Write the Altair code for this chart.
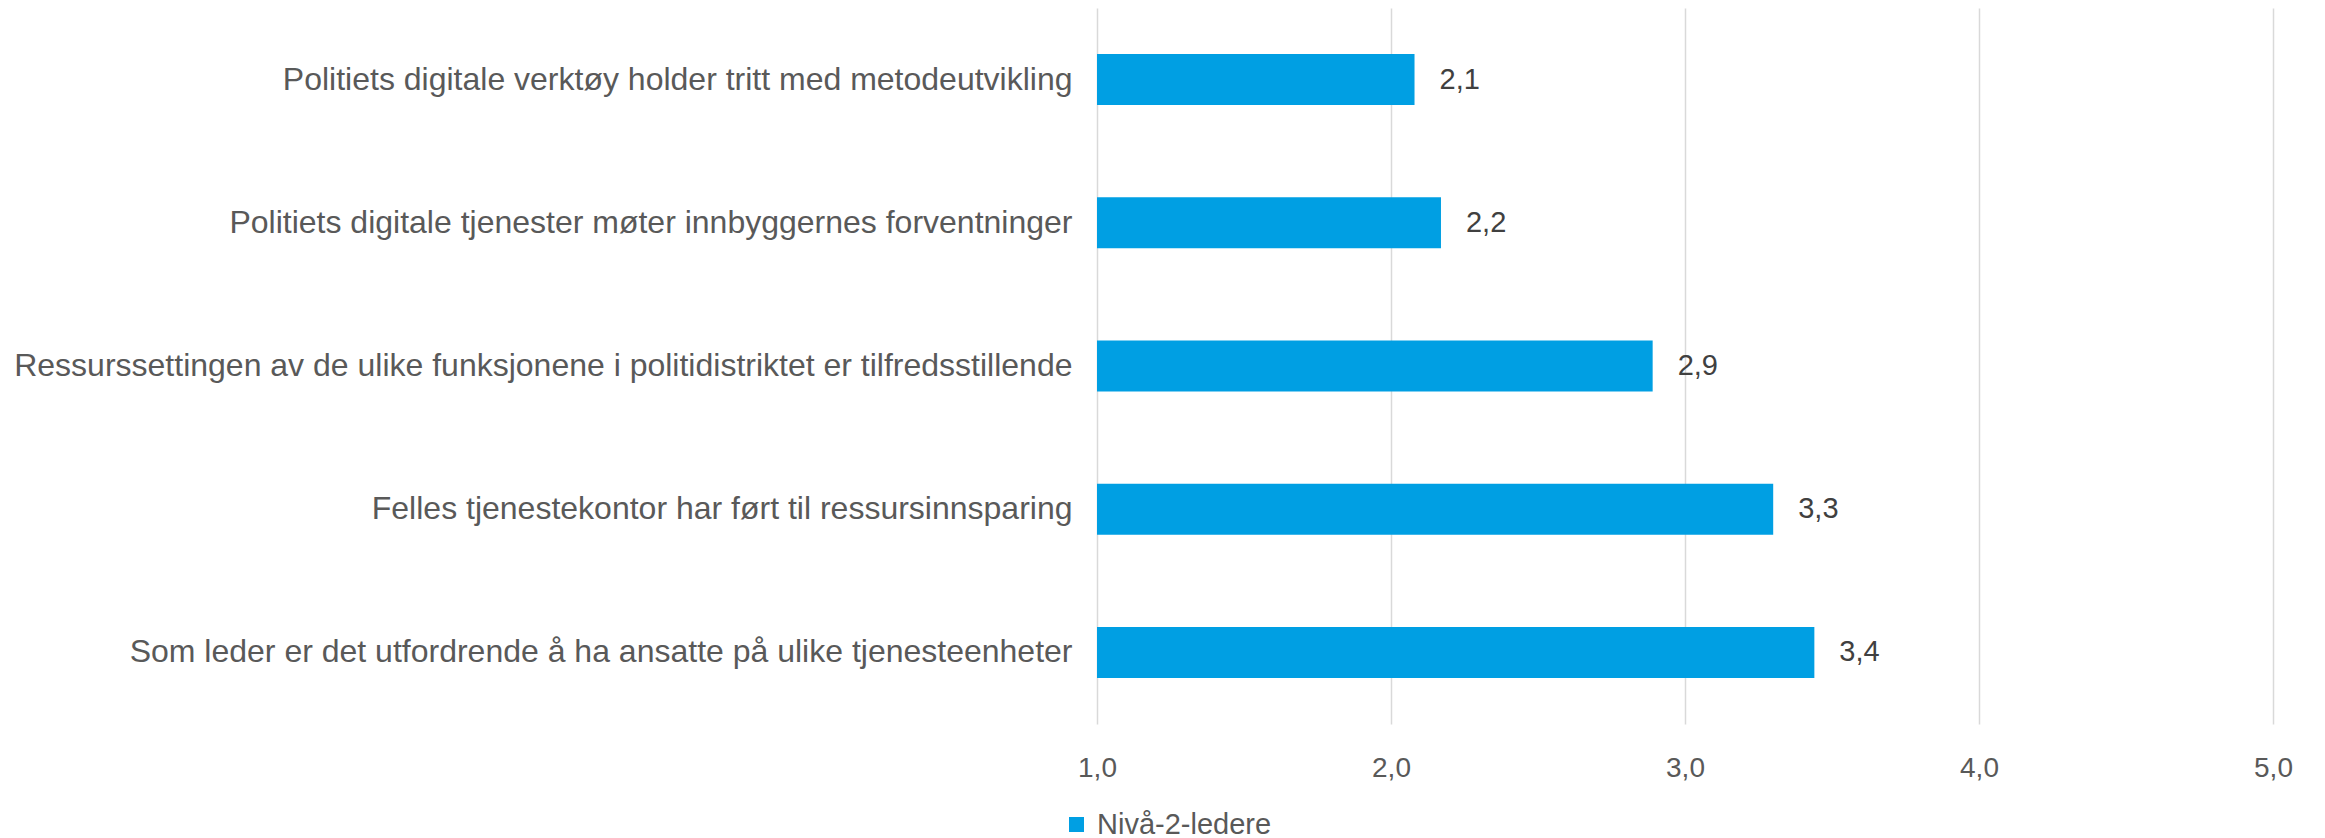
import altair as alt
import pandas as pd

categories = [
    "Politiets digitale verktøy holder tritt med metodeutvikling",
    "Politiets digitale tjenester møter innbyggernes forventninger",
    "Ressurssettingen av de ulike funksjonene i politidistriktet er tilfredsstillende",
    "Felles tjenestekontor har ført til ressursinnsparing",
    "Som leder er det utfordrende å ha ansatte på ulike tjenesteenheter",
]
values = [2.08, 2.17, 2.89, 3.30, 3.44]
series_name = "Nivå-2-ledere"
x_ticks = [1, 2, 3, 4, 5]

df = pd.DataFrame({"kategori": categories, "verdi": values, "serie": series_name, "base": 1.0})

FONT = "Liberation Sans"
BLUE = "#009FE3"

base = alt.Chart(df).encode(
    y=alt.Y(
        "kategori:N",
        sort=categories,
        title=None,
        axis=alt.Axis(
            labelFont=FONT, labelFontSize=32, labelColor="#595959",
            labelLimit=1100, labelPadding=25, ticks=False, domain=False, grid=False,
        ),
    )
)

bars = base.mark_bar(size=51).encode(
    x=alt.X(
        "base:Q",
        scale=alt.Scale(domain=[1, 5], zero=False, nice=False),
        title=None,
        axis=alt.Axis(
            values=x_ticks, labelExpr="replace(format(datum.value, '.1f'), '.', ',')",
            labelFont=FONT, labelFontSize=28, labelColor="#595959", labelPadding=30,
            labelFlush=False, labelBound=False,
            ticks=False, domain=False, grid=True, gridColor="#D9D9D9", gridWidth=1.5,
        ),
    ),
    x2="verdi:Q",
    color=alt.Color(
        "serie:N",
        scale=alt.Scale(range=[BLUE]),
        legend=alt.Legend(
            title=None, orient="none", legendX=-35, legendY=802, direction="horizontal",
            symbolType="square", symbolSize=225, symbolStrokeWidth=0,
            labelFont=FONT, labelFontSize=29, labelColor="#595959", labelOffset=6,
            labelLimit=400,
        ),
    ),
)

texts = base.mark_text(
    align="left", baseline="middle", dx=25, font=FONT, fontSize=29, color="#404040"
).transform_calculate(
    lbl="replace(format(datum.verdi, '.1f'), '.', ',')"
).encode(
    x=alt.X("verdi:Q"),
    text="lbl:N",
)

chart = (
    alt.layer(bars, texts)
    .properties(
        width=1176,
        height=716,
        background="white",
        autosize=alt.AutoSizeParams(type="none"),
        padding={"left": 1089, "top": 0, "right": 40, "bottom": 114},
    )
    .configure_view(strokeWidth=0, stroke="transparent")
)

chart.save("out.html", embed_options={"renderer": "svg", "actions": False})
